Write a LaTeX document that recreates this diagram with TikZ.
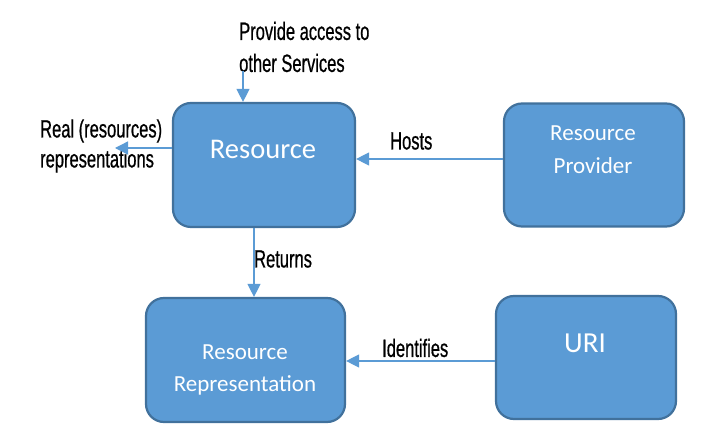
\documentclass[tikz,border=0pt]{standalone}
\usepackage{fontspec}
\setmainfont{Carlito}
\newfontfamily\lblfont[FakeStretch=0.66,FakeBold=0.6]{Liberation Sans}
\usetikzlibrary{arrows.meta}
\definecolor{boxfill}{HTML}{5B9BD5}
\definecolor{boxline}{HTML}{41719C}
\definecolor{arrcol}{HTML}{5B9BD5}
\tikzset{
  blockbox/.style={draw=boxline, fill=boxfill, line width=2.2pt, rounded corners=18pt, inner sep=0pt},
  boxtext/.style={text=white, align=center, inner sep=0pt},
  lbl/.style={font=\lblfont\fontsize{25}{32}\selectfont, align=left, inner sep=0pt, anchor=west},
  arr/.style={draw=arrcol, line width=1.3pt, -{Triangle[length=13pt,width=13pt]}}
}
\begin{document}
\begin{tikzpicture}[x=1pt,y=-1pt]
\useasboundingbox (0,0) rectangle (721,443);
% boxes
\node[blockbox, minimum width=182pt, minimum height=124pt] (res) at (264,165) {};
\node[blockbox, minimum width=180pt, minimum height=123pt] (prov) at (594,165) {};
\node[blockbox, minimum width=199pt, minimum height=124pt] (rep) at (245.5,360) {};
\node[blockbox, minimum width=180pt, minimum height=123pt] (uri) at (586,357.5) {};
% box texts
\node[boxtext, font=\fontsize{28.5}{33}\selectfont] (restxt) at (263,149) {Resource};
\node[boxtext, font=\fontsize{23}{33}\selectfont] (provtxt) at (593,150) {Resource\\Provider};
\node[boxtext, font=\fontsize{23}{32}\selectfont] (reptxt) at (245,369.5) {Resource\\Representation};
\node[boxtext, font=\fontsize{29}{33}\selectfont] (uritxt) at (585,343) {URI};
% labels
\node[lbl] (lprov) at (239,47) {Provide access to\\other Services};
\node[lbl, font=\lblfont\fontsize{25}{30}\selectfont] (lreal) at (40,146) {Real (resources)\\representations};
\node[lbl] (lhosts) at (390,141) {Hosts};
\node[lbl] (lret) at (254,259) {Returns};
\node[lbl] (lid) at (382,348) {Identifies};
% connectors
\coordinate (ptop) at (243,71);
\draw[arr] (ptop) -- (ptop |- res.north);
\coordinate (rtip) at (115,148);
\draw[arr] (res.west |- rtip) -- (rtip);
\coordinate (hy) at (430,159);
\draw[arr] (prov.west |- hy) -- (res.east |- hy);
\coordinate (rx) at (254,240);
\draw[arr] (rx |- res.south) -- (rx |- rep.north);
\coordinate (iy) at (420,361);
\draw[arr] (uri.west |- iy) -- (rep.east |- iy);
\end{tikzpicture}
\end{document}
